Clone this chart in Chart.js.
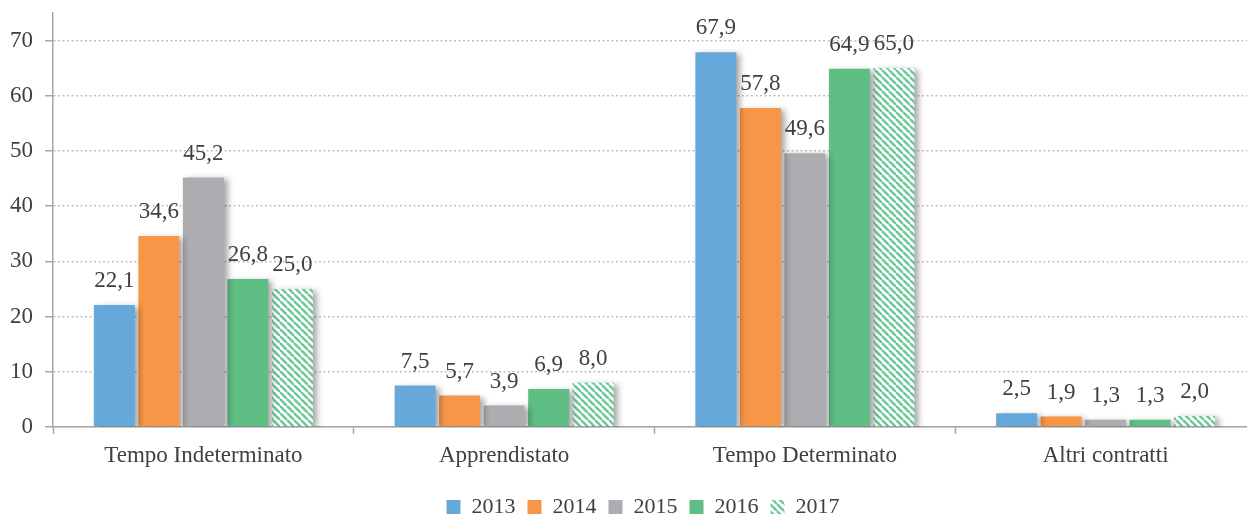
<!DOCTYPE html>
<html>
<head>
<meta charset="utf-8">
<script src="https://cdn.jsdelivr.net/npm/chart.js@4/dist/chart.umd.min.js"></script>
<style>
  html, body { margin: 0; padding: 0; background: #fff; overflow: hidden; }
  #wrap { width: 1262px; height: 515px; position: relative; }
</style>
</head>
<body>
<div id="wrap"><canvas id="chart"></canvas></div>
<script>
const categories = ['Tempo Indeterminato', 'Apprendistato', 'Tempo Determinato', 'Altri contratti'];
const years = ['2013', '2014', '2015', '2016', '2017'];
const values2013 = [22.1, 7.5, 67.9, 2.5];
const values2014 = [34.6, 5.7, 57.8, 1.9];
const values2015 = [45.2, 3.9, 49.6, 1.3];
const values2016 = [26.8, 6.9, 64.9, 1.3];
const values2017 = [25.0, 8.0, 65.0, 2.0];
const yTicks = [0, 10, 20, 30, 40, 50, 60, 70];

const FONT = '"Liberation Serif", "Times New Roman", serif';
const TEXT = '#404040';
const AXIS = '#A6A6A6';

// white tile with green diagonal stripes for 2017
function stripes(color) {
  const s = 7;
  const c = document.createElement('canvas');
  c.width = s; c.height = s;
  const g = c.getContext('2d');
  g.fillStyle = '#fff';
  g.fillRect(0, 0, s, s);
  g.strokeStyle = color;
  g.lineWidth = 2.4;
  for (const k of [-s, 0, s]) {
    g.beginPath();
    g.moveTo(k, 0);
    g.lineTo(k + s, s);
    g.stroke();
  }
  return g.createPattern(c, 'repeat');
}

// let the y tick labels use the space left of the axis box
const widenYLabels = {
  id: 'widenYLabels',
  afterLayout(chart) {
    chart.scales.y.left = 0;
  }
};

const barShadow = {
  id: 'barShadow',
  beforeDatasetsDraw(chart) {
    const c = chart.ctx;
    c.save();
    c.shadowColor = 'rgba(0,0,0,0.35)';
    c.shadowBlur = 6;
    c.shadowOffsetX = 4;
    c.shadowOffsetY = 2;
  },
  afterDatasetsDraw(chart) {
    chart.ctx.restore();
  }
};

const valueLabels = {
  id: 'valueLabels',
  afterDatasetsDraw(chart) {
    const ctx = chart.ctx;
    ctx.save();
    ctx.font = '23px ' + FONT;
    ctx.fillStyle = TEXT;
    ctx.textAlign = 'center';
    ctx.textBaseline = 'middle';
    chart.data.datasets.forEach((ds, i) => {
      chart.getDatasetMeta(i).data.forEach((bar, j) => {
        ctx.fillText(ds.data[j].toFixed(1).replace('.', ','), bar.x, bar.y - 24);
      });
    });
    ctx.restore();
  }
};

const ctx = document.getElementById('chart').getContext('2d');
const series = [values2013, values2014, values2015, values2016, values2017];
const colors = ['#66A8DA', '#F79646', '#ADADB1', '#5EBE84', stripes('#6CC898')];

new Chart(ctx, {
  type: 'bar',
  data: {
    labels: categories,
    datasets: years.map((y, i) => ({
      label: y,
      data: series[i],
      backgroundColor: colors[i],
      borderWidth: 0,
      categoryPercentage: 0.74,
      barPercentage: 0.92
    }))
  },
  options: {
    responsive: true,
    maintainAspectRatio: false,
    animation: false,
    layout: { padding: { top: 13, right: 6, left: 30, bottom: 0 } },
    plugins: {
      legend: {
        position: 'bottom',
        maxHeight: 31,
        labels: {
          boxWidth: 14,
          boxHeight: 14,
          padding: 12,
          color: TEXT,
          font: { family: FONT, size: 22 }
        }
      },
      tooltip: { enabled: false }
    },
    scales: {
      x: {
        afterFit(scale) {
          scale.height = 57;
          scale.paddingLeft = 0;
          scale.paddingRight = 0;
        },
        grid: {
          display: true,
          drawOnChartArea: false,
          drawTicks: true,
          tickLength: 7,
          tickColor: AXIS,
          tickWidth: 1.5,
          tickBorderDash: []
        },
        border: { color: AXIS, width: 1.5 },
        ticks: { color: TEXT, padding: 8, font: { family: FONT, size: 23 } }
      },
      y: {
        min: 0,
        max: 75,
        afterFit(scale) {
          scale.width = 23;
          scale.paddingTop = 0;
          scale.paddingBottom = 0;
        },
        afterBuildTicks(scale) { scale.ticks = yTicks.map(v => ({ value: v })); },
        grid: {
          color: '#BFBFBF',
          lineWidth: 1.5,
          tickLength: 8,
          tickColor: AXIS,
          tickWidth: 1.5,
          tickBorderDash: []
        },
        border: { color: AXIS, width: 1.5, dash: [2, 2.5] },
        ticks: { color: TEXT, padding: 12, font: { family: FONT, size: 23 } }
      }
    }
  },
  plugins: [widenYLabels, barShadow, valueLabels]
});
</script>
</body>
</html>
